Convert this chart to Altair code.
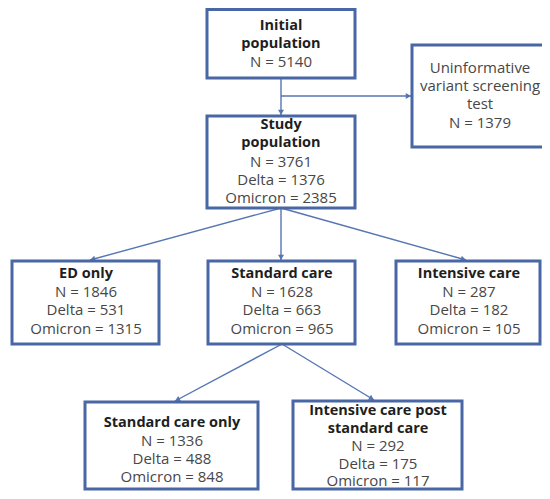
import math
import altair as alt
import pandas as pd

# ---------------- data ----------------
box_ids = ["initial", "uninformative", "study", "ed", "standard",
           "intensive", "standard_only", "intensive_post"]
box_titles = [["Initial", "population"],
              ["Uninformative", "variant screening", "test"],
              ["Study", "population"],
              ["ED only"],
              ["Standard care"],
              ["Intensive care"],
              ["Standard care only"],
              ["Intensive care post", "standard care"]]
title_bold = [True, False, True, True, True, True, True, True]
n_total = [5140, 1379, 3761, 1846, 1628, 287, 1336, 292]
n_delta = [None, None, 1376, 531, 663, 182, 488, 175]
n_omicron = [None, None, 2385, 1315, 965, 105, 848, 117]
edges = [("initial", "study"), ("initial", "uninformative"),
         ("study", "ed"), ("study", "standard"), ("study", "intensive"),
         ("standard", "standard_only"), ("standard", "intensive_post")]

# ---------------- layout (page pixels) ----------------
box_x0 = [207, 412, 207, 12, 208, 396, 85, 293]
box_x1 = [355, 562, 355, 159, 355, 540, 258, 462]
box_y0 = [9.5, 45, 116, 261, 261, 261, 402, 401]
box_y1 = [78, 147, 208, 344, 344, 344, 489, 489]
text_cx = [281, 480, 281, 86, 282, 469, 172, 378]
first_line_y = [26, 68, 125, 274, 274, 274, 423, 411]
line_step = [17.8, 18.2, 18.3, 18.2, 18.2, 18.2, 18, 17.5]
edge_start = [(281, 78), (281, 96), (281, 208), (281, 208), (281, 208),
              (282, 344), (282, 344)]
edge_end = [(281, 115), (411, 96), (90, 260), (281, 260), (466, 260),
            (175, 401), (374, 400)]

BORDER = "#4a67a5"
LINE = "#5676b2"
TEXT_BOLD = "#1e1e1e"
TEXT_REG = "#474747"
FONT = "Open Sans"

# ---------------- tables ----------------
boxes = pd.DataFrame({"id": box_ids, "x0": box_x0, "x1": box_x1,
                      "y0": box_y0, "y1": box_y1})

rows = []
for i, bid in enumerate(box_ids):
    lines = [(t, title_bold[i]) for t in box_titles[i]]
    lines.append((f"N = {n_total[i]}", False))
    if n_delta[i] is not None:
        lines.append((f"Delta = {n_delta[i]}", False))
    if n_omicron[i] is not None:
        lines.append((f"Omicron = {n_omicron[i]}", False))
    for k, (t, b) in enumerate(lines):
        rows.append({"x": text_cx[i], "y": first_line_y[i] + k * line_step[i],
                     "text": t, "bold": b})
texts = pd.DataFrame(rows)

erows, arows = [], []
for (a, b), (sx, sy), (ex, ey) in zip(edges, edge_start, edge_end):
    erows.append({"edge": f"{a}->{b}", "x": sx, "y": sy, "x2": ex, "y2": ey})
    dx, dy = ex - sx, ey - sy
    L = math.hypot(dx, dy)
    ux, uy = dx / L, dy / L
    ang = math.degrees(math.atan2(dx, -dy)) % 360
    arows.append({"x": ex - 3.5 * ux, "y": ey - 3.5 * uy, "angle": ang})
edges_df = pd.DataFrame(erows)
arrows_df = pd.DataFrame(arows)

W, H = 534, 483
xs = alt.Scale(domain=[8, 8 + W], nice=False, zero=False)
ys = alt.Scale(domain=[8, 8 + H], nice=False, zero=False, reverse=True)

lines_layer = alt.Chart(edges_df).mark_rule(color=LINE, strokeWidth=1.4).encode(
    x=alt.X("x:Q", scale=xs, axis=None),
    y=alt.Y("y:Q", scale=ys, axis=None),
    x2="x2:Q", y2="y2:Q")

heads = alt.Chart(arrows_df).mark_point(
    shape="triangle", filled=True, color=LINE, size=36, opacity=1).encode(
    x=alt.X("x:Q", scale=xs, axis=None),
    y=alt.Y("y:Q", scale=ys, axis=None),
    angle=alt.Angle("angle:Q", scale=None))

rects = alt.Chart(boxes).mark_rect(
    fill="white", stroke=BORDER, strokeWidth=3).encode(
    x=alt.X("x0:Q", scale=xs, axis=None), x2="x1:Q",
    y=alt.Y("y0:Q", scale=ys, axis=None), y2="y1:Q")

bold_text = alt.Chart(texts[texts["bold"]]).mark_text(
    font=FONT, fontSize=14.5, fontWeight="bold", color=TEXT_BOLD,
    baseline="middle", align="center").encode(
    x=alt.X("x:Q", scale=xs, axis=None),
    y=alt.Y("y:Q", scale=ys, axis=None), text="text:N")

reg_text = alt.Chart(texts[~texts["bold"]]).mark_text(
    font=FONT, fontSize=15, color=TEXT_REG,
    baseline="middle", align="center").encode(
    x=alt.X("x:Q", scale=xs, axis=None),
    y=alt.Y("y:Q", scale=ys, axis=None), text="text:N")

chart = alt.layer(lines_layer, heads, rects, bold_text, reg_text).properties(
    width=W, height=H, padding=0, autosize=alt.AutoSizeParams(type="none"),
    background="white"
).configure_view(stroke=None)

chart.save("out.html", embed_options={"renderer": "svg", "actions": False})
